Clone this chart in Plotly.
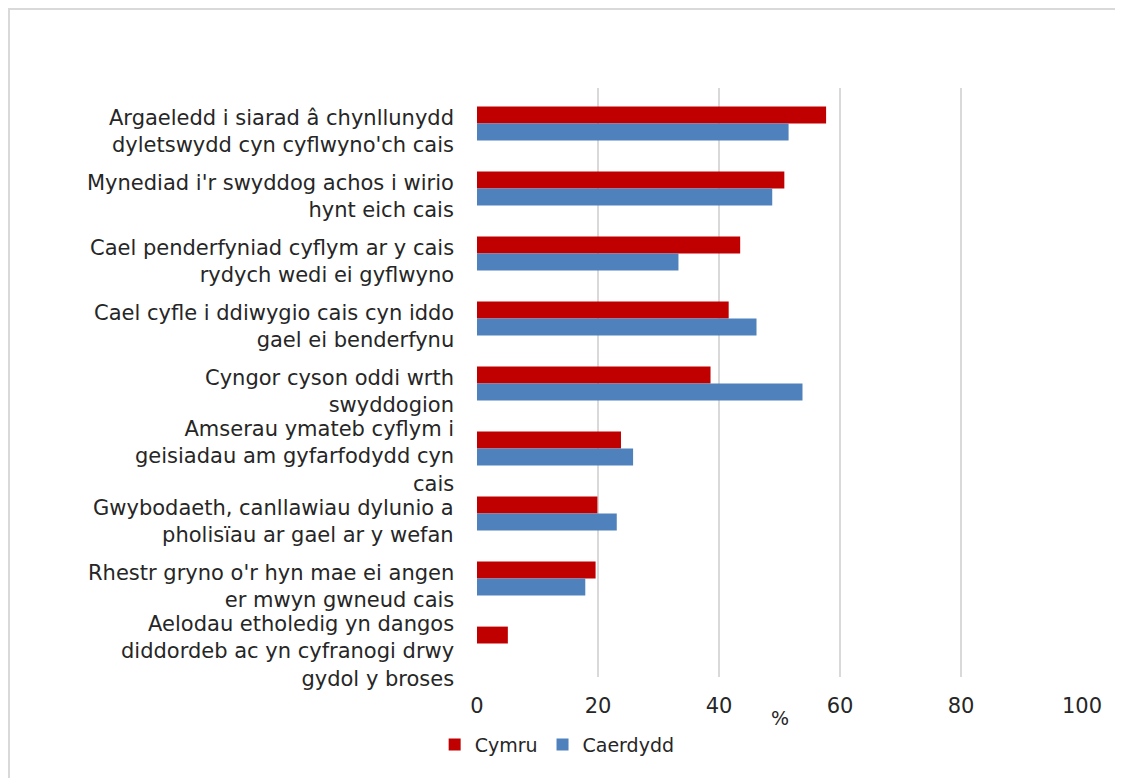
import plotly.graph_objects as go

categories = [
    "Argaeledd i siarad â chynllunydd<br>dyletswydd cyn cyflwyno'ch cais",
    "Mynediad i'r swyddog achos i wirio<br>hynt eich cais",
    "Cael penderfyniad cyflym ar y cais<br>rydych wedi ei gyflwyno",
    "Cael cyfle i ddiwygio cais cyn iddo<br>gael ei benderfynu",
    "Cyngor cyson oddi wrth<br>swyddogion",
    "Amserau ymateb cyflym i<br>geisiadau am gyfarfodydd cyn<br>cais",
    "Gwybodaeth, canllawiau dylunio a<br>pholisïau ar gael ar y wefan",
    "Rhestr gryno o'r hyn mae ei angen<br>er mwyn gwneud cais",
    "Aelodau etholedig yn dangos<br>diddordeb ac yn cyfranogi drwy<br>gydol y broses",
]
cymru = [57.7, 50.8, 43.5, 41.6, 38.6, 23.8, 19.9, 19.6, 5.1]
caerdydd = [51.5, 48.8, 33.3, 46.2, 53.8, 25.8, 23.1, 17.9, None]
x_ticks = [0, 20, 40, 60, 80, 100]
x_title = "%"

FONT = "DejaVu Sans"
TXT = "#262626"
FS = 21

W, H = 1123, 778
L, T = 469, 80
PW, PH = 605, 589
R = W - L - PW
B = H - T - PH

fig = go.Figure()
fig.add_trace(go.Bar(y=categories, x=cymru, name="Cymru", orientation="h",
                     marker=dict(color="#C00000", line=dict(width=0))))
fig.add_trace(go.Bar(y=categories, x=caerdydd, name="Caerdydd", orientation="h",
                     marker=dict(color="#4F81BD", line=dict(width=0))))

# Category labels: right-aligned, centred on the bar pair, nudged slightly down
label_annotations = [
    dict(text=c, xref="paper", yref="y", x=0, y=c, xanchor="right", yanchor="middle",
         xshift=-21, yshift=-8, align="right", showarrow=False,
         font=dict(family=FONT, size=FS, color=TXT))
    for c in categories
]

fig.update_layout(
    width=W, height=H,
    margin=dict(l=L, r=R, t=T, b=B),
    paper_bgcolor="white", plot_bgcolor="white",
    barmode="group", bargap=0.48, bargroupgap=0,
    font=dict(family=FONT, size=FS, color=TXT),
    showlegend=True,
    legend=dict(orientation="h", x=-0.07, y=-0.115, xanchor="left", yanchor="middle",
                font=dict(family=FONT, size=19, color=TXT), itemwidth=30,
                tracegroupgap=0, bgcolor="rgba(0,0,0,0)"),
    xaxis=dict(range=[0, 100], tickvals=x_ticks, ticktext=[str(v) for v in x_ticks],
               showgrid=True, gridcolor="#d9d9d9", gridwidth=1.5,
               zeroline=False, showline=False, ticks="",
               ticklabelstandoff=14,
               tickfont=dict(family=FONT, size=FS, color=TXT)),
    yaxis=dict(autorange="reversed", showgrid=False, zeroline=False, showline=False,
               ticks="", showticklabels=False),
    annotations=label_annotations + [
        dict(text=x_title, xref="paper", yref="paper", x=0.5,
             y=(T + PH - 710) / PH, xanchor="center", yanchor="middle",
             showarrow=False, font=dict(family=FONT, size=19, color=TXT))],
    shapes=[dict(type="rect", xref="paper", yref="paper",
                 x0=(1 - L) / PW, x1=(W + 20 - L) / PW,
                 y0=(T + PH - H - 20) / PH, y1=(T + PH - 1) / PH,
                 line=dict(color="#d9d9d9", width=2), fillcolor="rgba(0,0,0,0)",
                 layer="below")],
)

fig.write_html("out.html")
